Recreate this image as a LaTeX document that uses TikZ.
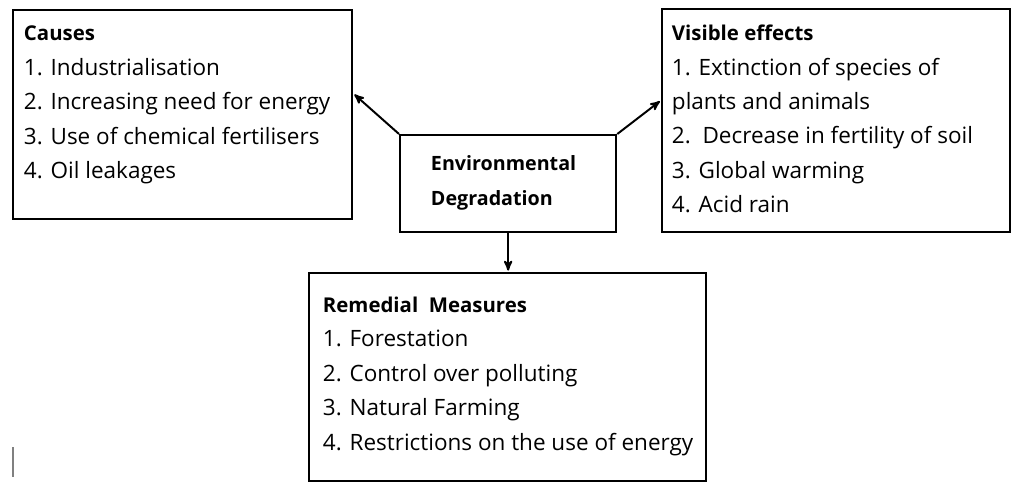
\documentclass[tikz,border=0pt]{standalone}
\usepackage{fontspec}
\setmainfont{Open Sans}
\usetikzlibrary{positioning, arrows, calc}
\newcommand{\boxhead}[1]{{\bfseries\fontsize{14.5}{24.5}\selectfont #1}}

\begin{document}
\begin{tikzpicture}[->,>=stealth',shorten >=1pt,x=0.025cm,y=-0.025cm,
    line width=1.4pt,
    box/.style={draw,rectangle,line width=1.6pt,inner sep=0pt,anchor=north west},
    list/.style={align=left,inner sep=0pt,anchor=north west,font=\fontsize{16}{24.5}\selectfont}]

\useasboundingbox (0,0) rectangle (1024,490);

% the four boxes
\node[box,minimum width=8.475cm,minimum height=5.225cm] (causes)   at (12,9)    {};
\node[box,minimum width=5.4cm,minimum height=2.425cm]   (degr)     at (399,134) {};
\node[box,minimum width=8.7cm,minimum height=5.575cm]   (effects)  at (661,8)   {};
\node[box,minimum width=9.925cm,minimum height=5.2cm]   (remedial) at (308,272) {};

% texts
\node[list] (causestxt) at ([shift={(11,16)}]causes.north west)
    {\boxhead{Causes}\\
     1. Industrialisation\\
     2. Increasing need for energy\\
     3. Use of chemical fertilisers\\
     4. Oil leakages};
\node[list,font=\bfseries\fontsize{14}{24.5}\selectfont] (degrtxt) at ([shift={(31,21)}]degr.north west)
    {Environmental\\ Degradation};
\node[list] (effectstxt) at ([shift={(10,16)}]effects.north west)
    {\boxhead{Visible effects}\\
     1. Extinction of species of\\
     plants and animals\\
     2.\ \ Decrease in fertility of soil\\
     3. Global warming\\
     4. Acid rain};
\node[list] (remedialtxt) at ([shift={(14,24)}]remedial.north west)
    {\boxhead{Remedial\ \ Measures}\\
     1. Forestation\\
     2. Control over polluting\\
     3. Natural Farming\\
     4. Restrictions on the use of energy};

% arrows
\draw (degr.north west) -- ($(causes.north east)!0.4!(causes.south east)$);
\draw (degr.north east) -- ($(effects.north west)!0.41!(effects.south west)$);
\draw (degr.south) -- (degr.south |- remedial.north);

\draw[-,gray,line width=0.8pt] (13,447) -- (13,478);

\end{tikzpicture}
\end{document}
